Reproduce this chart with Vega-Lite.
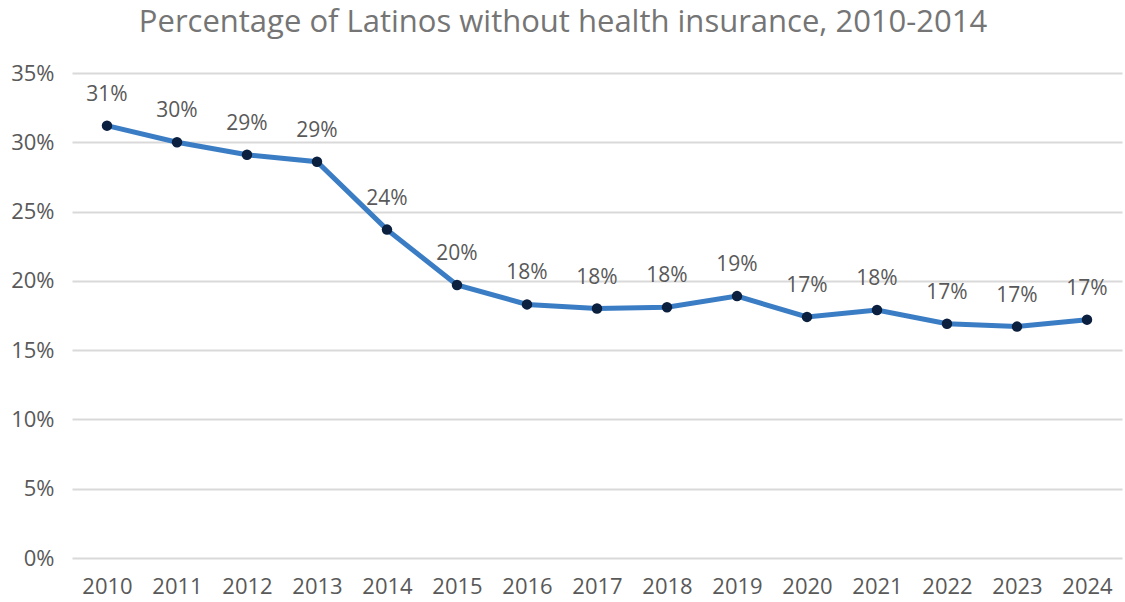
{
  "$schema": "https://vega.github.io/schema/vega-lite/v6.json",
  "width": 1050,
  "height": 485,
  "autosize": "none",
  "padding": {"left": 72, "top": 73, "right": 3, "bottom": 44},
  "background": "white",
  "config": {
    "font": "Open Sans",
    "view": {"stroke": null}
  },
  "title": {
    "text": "Percentage of Latinos without health insurance, 2010-2014",
    "fontSize": 31,
    "fontWeight": "normal",
    "color": "#757575",
    "font": "Open Sans",
    "anchor": "middle",
    "dx": -34,
    "offset": 23
  },
  "data": {
    "values": [
      {"year": "2010", "rate": 0.312},
      {"year": "2011", "rate": 0.300},
      {"year": "2012", "rate": 0.291},
      {"year": "2013", "rate": 0.286},
      {"year": "2014", "rate": 0.237},
      {"year": "2015", "rate": 0.197},
      {"year": "2016", "rate": 0.183},
      {"year": "2017", "rate": 0.180},
      {"year": "2018", "rate": 0.181},
      {"year": "2019", "rate": 0.189},
      {"year": "2020", "rate": 0.174},
      {"year": "2021", "rate": 0.179},
      {"year": "2022", "rate": 0.169},
      {"year": "2023", "rate": 0.167},
      {"year": "2024", "rate": 0.172}
    ]
  },
  "encoding": {
    "x": {
      "field": "year",
      "type": "ordinal",
      "scale": {"type": "point", "padding": 0.5},
      "axis": {
        "title": null,
        "labelAngle": 0,
        "domain": false,
        "ticks": false,
        "grid": false,
        "labelFontSize": 22,
        "labelColor": "#595959",
        "labelPadding": 18
      }
    },
    "y": {
      "field": "rate",
      "type": "quantitative",
      "scale": {"domain": [0, 0.35], "nice": false},
      "axis": {
        "title": null,
        "format": ".0%",
        "values": [0, 0.05, 0.1, 0.15, 0.2, 0.25, 0.3, 0.35],
        "domain": false,
        "ticks": false,
        "grid": true,
        "gridColor": "#d9d9d9",
        "gridWidth": 2,
        "labelFontSize": 22,
        "labelColor": "#595959",
        "labelPadding": 18
      }
    }
  },
  "layer": [
    {
      "mark": {"type": "line", "color": "#3b7dc4", "strokeWidth": 5}
    },
    {
      "mark": {"type": "point", "filled": true, "color": "#0b1f3f", "size": 110, "opacity": 1}
    },
    {
      "mark": {"type": "text", "dy": -31, "fontSize": 21, "color": "#595959"},
      "encoding": {
        "text": {"field": "rate", "type": "quantitative", "format": ".0%"}
      }
    }
  ]
}
